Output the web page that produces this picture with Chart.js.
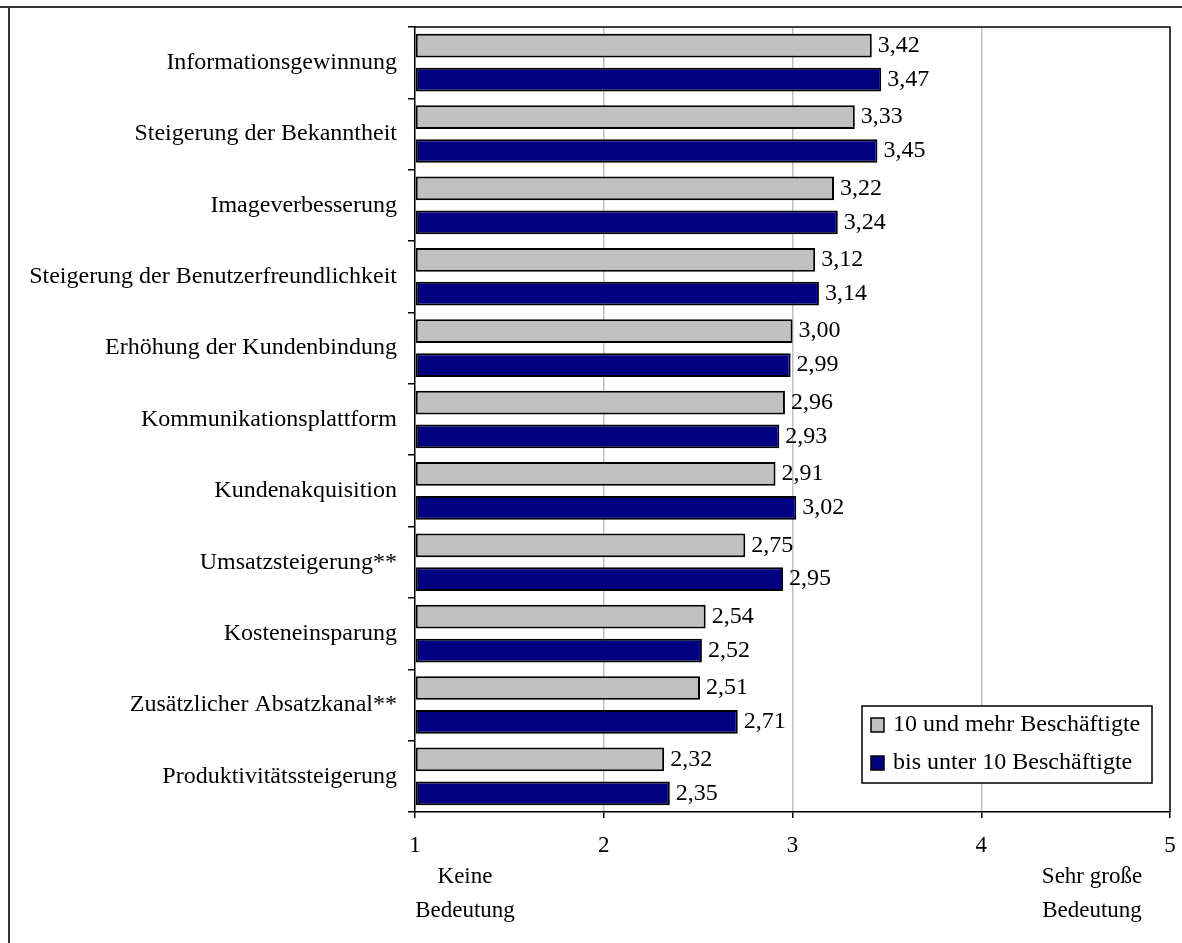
<!DOCTYPE html>
<html>
<head>
<meta charset="utf-8">
<script src="https://cdn.jsdelivr.net/npm/chart.js@4/dist/chart.umd.min.js"></script>
<style>
html,body{margin:0;padding:0;background:#fff;}
canvas{display:block;}
</style>
</head>
<body>
<canvas id="c" width="1182" height="943"></canvas>
<script>
const categories = [
  "Informationsgewinnung",
  "Steigerung der Bekanntheit",
  "Imageverbesserung",
  "Steigerung der Benutzerfreundlichkeit",
  "Erhöhung der Kundenbindung",
  "Kommunikationsplattform",
  "Kundenakquisition",
  "Umsatzsteigerung**",
  "Kosteneinsparung",
  "Zusätzlicher Absatzkanal**",
  "Produktivitätssteigerung"
];
const series10plus = [3.42, 3.33, 3.22, 3.12, 3.00, 2.96, 2.91, 2.75, 2.54, 2.51, 2.32];
const seriesUnder10 = [3.47, 3.45, 3.24, 3.14, 2.99, 2.93, 3.02, 2.95, 2.52, 2.71, 2.35];
const seriesNames = ["10 und mehr Beschäftigte", "bis unter 10 Beschäftigte"];
const tickValues = [1, 2, 3, 4, 5];
const axisEndLabels = [["Keine", "Bedeutung"], ["Sehr große", "Bedeutung"]];

const FONT = '"Liberation Serif", "Times New Roman", serif';
const FS = 24;
Chart.defaults.font.family = FONT;
Chart.defaults.font.size = FS;
Chart.defaults.color = '#000';

const framePlugin = {
  id: 'frame',
  beforeDraw(chart) {
    const ctx = chart.ctx;
    ctx.save();
    ctx.fillStyle = '#fff';
    ctx.fillRect(0, 0, chart.width, chart.height);
    ctx.strokeStyle = '#333';
    ctx.lineWidth = 2;
    ctx.beginPath();
    ctx.moveTo(0, 7); ctx.lineTo(chart.width, 7);
    ctx.moveTo(9, 7); ctx.lineTo(9, chart.height);
    ctx.stroke();
    ctx.restore();
  },
  afterDraw(chart) {
    const ctx = chart.ctx;
    const a = chart.chartArea;
    ctx.save();
    ctx.strokeStyle = '#000';
    ctx.lineWidth = 1.5;
    ctx.beginPath();
    ctx.moveTo(a.left, a.top); ctx.lineTo(a.right, a.top);
    ctx.lineTo(a.right, a.bottom);
    ctx.stroke();
    // axis end labels
    ctx.fillStyle = '#000';
    ctx.font = (FS - 1) + 'px ' + FONT;
    ctx.textAlign = 'center';
    ctx.textBaseline = 'middle';
    const xs = chart.scales.x;
    const leftX = xs.getPixelForValue(1) + 50;
    const rightX = xs.getPixelForValue(5) - 78;
    ctx.fillText(axisEndLabels[0][0], leftX, 877);
    ctx.fillText(axisEndLabels[0][1], leftX, 911);
    ctx.fillText(axisEndLabels[1][0], rightX, 877);
    ctx.fillText(axisEndLabels[1][1], rightX, 911);
    // legend
    const lx = 862, ly = 706, lw = 290, lh = 77;
    ctx.fillStyle = '#fff';
    ctx.fillRect(lx, ly, lw, lh);
    ctx.lineWidth = 1.5;
    ctx.strokeStyle = '#000';
    ctx.strokeRect(lx, ly, lw, lh);
    ctx.font = FS + 'px ' + FONT;
    chart.data.datasets.forEach((ds, i) => {
      const cy = ly + 19 + i * 38;
      ctx.fillStyle = ds.backgroundColor;
      ctx.fillRect(871, cy - 7, 13, 14);
      ctx.strokeRect(871, cy - 7, 13, 14);
      ctx.fillStyle = '#000';
      ctx.textAlign = 'left';
      ctx.fillText(ds.label, 893, cy);
    });
    ctx.restore();
  },
  afterDatasetsDraw(chart) {
    const ctx = chart.ctx;
    ctx.save();
    ctx.fillStyle = '#000';
    ctx.font = FS + 'px ' + FONT;
    ctx.textAlign = 'left';
    ctx.textBaseline = 'middle';
    chart.data.datasets.forEach((ds, i) => {
      chart.getDatasetMeta(i).data.forEach((el, j) => {
        ctx.fillText(ds.data[j].toFixed(2).replace('.', ','), el.x + 6, el.y);
      });
    });
    ctx.restore();
  }
};

new Chart(document.getElementById('c'), {
  type: 'bar',
  data: {
    labels: categories,
    datasets: [
      { label: seriesNames[0], data: series10plus, backgroundColor: '#C0C0C0', borderColor: '#000', borderWidth: 2, borderSkipped: false, base: 1 },
      { label: seriesNames[1], data: seriesUnder10, backgroundColor: '#000080', borderColor: '#000', borderWidth: 2, borderSkipped: false, base: 1 }
    ]
  },
  options: {
    indexAxis: 'y',
    responsive: false,
    animation: false,
    events: [],
    categoryPercentage: 0.95,
    barPercentage: 0.7,
    layout: { padding: { top: 27, right: 12, left: 0, bottom: 0 } },
    plugins: { legend: { display: false }, tooltip: { enabled: false } },
    scales: {
      x: {
        min: 1, max: 5,
        afterBuildTicks(scale) { scale.ticks = tickValues.map(v => ({ value: v })); },
        afterFit(scale) { scale.height = 131; scale.paddingRight = 0; scale.paddingLeft = 0; },
        ticks: { padding: 14, maxRotation: 0, font: { size: FS - 1 } },
        grid: {
          color: c => (c.tick && (c.tick.value === 1 || c.tick.value === 5)) ? 'rgba(0,0,0,0)' : '#C0C0C0',
          tickColor: '#000', tickLength: 6, lineWidth: 1.5
        },
        border: { color: '#000', width: 1.5 }
      },
      y: {
        afterFit(scale) { scale.width = 415; scale.paddingTop = 0; scale.paddingBottom = 0; },
        ticks: { padding: 11, font: { size: FS } },
        grid: { offset: true, drawOnChartArea: false, color: '#000', tickLength: 7, lineWidth: 1.5 },
        border: { color: '#000', width: 1.5 }
      }
    }
  },
  plugins: [framePlugin]
});
</script>
</body>
</html>
